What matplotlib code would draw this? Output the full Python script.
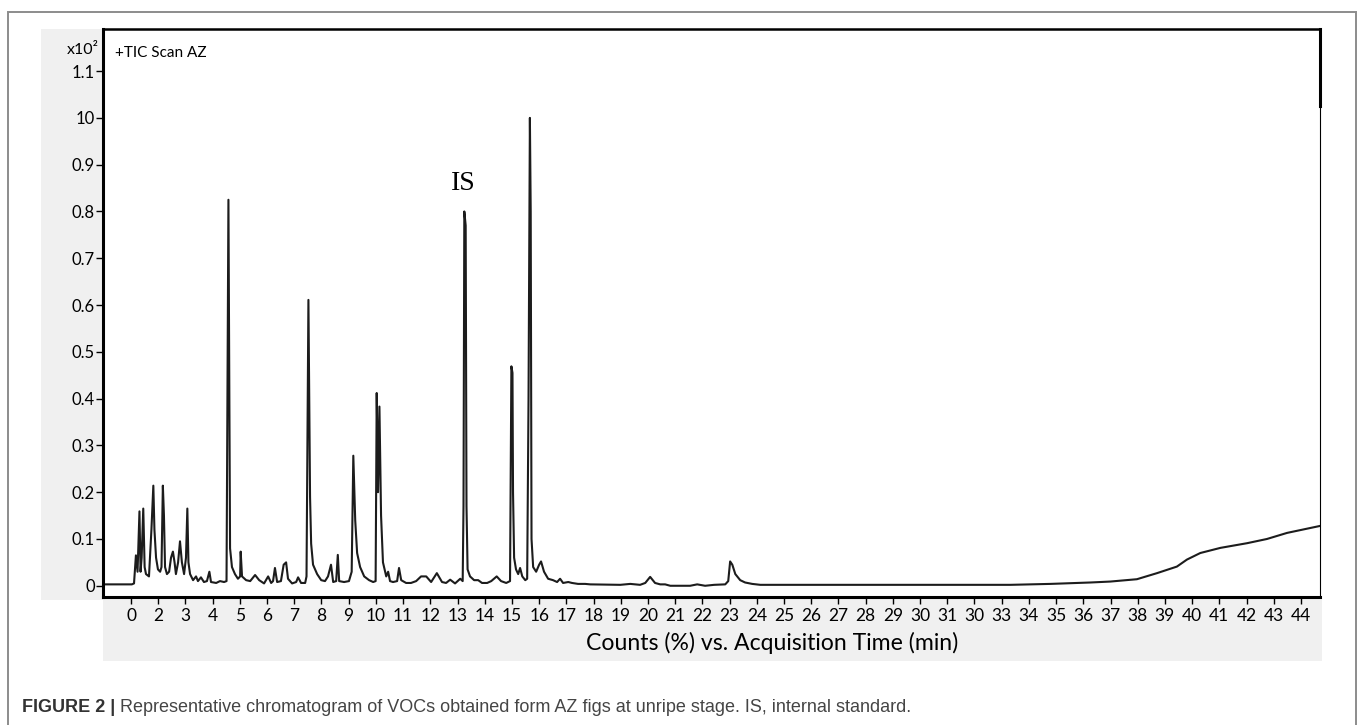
import matplotlib
matplotlib.use("Agg")
import matplotlib.pyplot as plt
from matplotlib.patches import Rectangle

# chromatogram trace (x in tick units, y in counts x10^2)
rt = [-1.03, 0.03, 0.11, 0.18, 0.24, 0.31, 0.35, 0.39, 0.45, 0.50, 0.55, 0.66, 0.75, 0.82, 0.86,
      0.92, 0.99, 1.07, 1.12, 1.17, 1.21, 1.25, 1.32, 1.40, 1.47, 1.54, 1.60, 1.65, 1.73, 1.80,
      1.87, 1.95, 2.02, 2.07, 2.11, 2.17, 2.28, 2.39, 2.46, 2.57, 2.68, 2.79, 2.88, 2.94, 3.13,
      3.27, 3.42, 3.51, 3.58, 3.64, 3.71, 3.82, 3.93, 4.01, 4.03, 4.08, 4.23, 4.38, 4.56, 4.71,
      4.89, 5.04, 5.15, 5.22, 5.29, 5.37, 5.51, 5.61, 5.70, 5.77, 5.92, 6.07, 6.14, 6.25, 6.40,
      6.45, 6.52, 6.58, 6.62, 6.69, 6.84, 6.99, 7.13, 7.24, 7.35, 7.43, 7.54, 7.60, 7.65, 7.83,
      8.01, 8.11, 8.17, 8.24, 8.31, 8.42, 8.57, 8.75, 8.90, 8.99, 9.03, 9.08, 9.13, 9.19, 9.26,
      9.38, 9.45, 9.52, 9.63, 9.78, 9.85, 9.93, 10.11, 10.29, 10.48, 10.66, 10.85, 11.03, 11.24,
      11.43, 11.58, 11.73, 11.91, 12.10, 12.19, 12.22, 12.25, 12.30, 12.33, 12.37, 12.46, 12.61,
      12.76, 12.90, 13.09, 13.24, 13.44, 13.60, 13.79, 13.93, 13.98, 14.02, 14.04, 14.08, 14.15,
      14.23, 14.30, 14.38, 14.49, 14.56, 14.61, 14.66, 14.69, 14.72, 14.78, 14.89, 15.00, 15.07,
      15.18, 15.33, 15.51, 15.66, 15.77, 15.88, 16.07, 16.21, 16.43, 16.69, 16.88, 17.98, 18.35,
      18.71, 18.90, 19.08, 19.26, 19.45, 19.63, 19.82, 20.55, 20.81, 21.10, 21.43, 21.84, 21.95,
      22.02, 22.10, 22.21, 22.39, 22.57, 22.83, 23.13, 32.32, 33.79, 35.26, 35.99, 36.97, 37.71,
      38.44, 38.81, 39.30, 40.04, 41.02, 41.75, 42.49, 43.71]
counts = [0.003, 0.003, 0.005, 0.065, 0.030, 0.159, 0.030, 0.060, 0.165, 0.040, 0.025, 0.020, 0.120,
          0.214, 0.120, 0.060, 0.035, 0.030, 0.040, 0.214, 0.150, 0.040, 0.025, 0.030, 0.060, 0.073,
          0.050, 0.025, 0.050, 0.095, 0.050, 0.025, 0.060, 0.165, 0.050, 0.025, 0.012, 0.020, 0.010,
          0.018, 0.008, 0.010, 0.030, 0.008, 0.006, 0.010, 0.008, 0.010, 0.825, 0.080, 0.040, 0.025,
          0.015, 0.020, 0.073, 0.020, 0.012, 0.010, 0.023, 0.012, 0.005, 0.020, 0.006, 0.010, 0.038,
          0.008, 0.010, 0.045, 0.050, 0.015, 0.005, 0.008, 0.018, 0.006, 0.006, 0.020, 0.611, 0.190,
          0.090, 0.045, 0.025, 0.012, 0.010, 0.020, 0.045, 0.008, 0.010, 0.066, 0.010, 0.008, 0.010,
          0.030, 0.278, 0.140, 0.070, 0.040, 0.020, 0.012, 0.008, 0.010, 0.412, 0.200, 0.383, 0.150,
          0.050, 0.020, 0.030, 0.010, 0.008, 0.010, 0.038, 0.012, 0.006, 0.006, 0.010, 0.020, 0.020,
          0.008, 0.027, 0.008, 0.006, 0.013, 0.005, 0.015, 0.010, 0.170, 0.800, 0.770, 0.170, 0.035,
          0.020, 0.012, 0.012, 0.006, 0.006, 0.010, 0.020, 0.010, 0.006, 0.010, 0.469, 0.455, 0.200,
          0.060, 0.035, 0.025, 0.038, 0.020, 0.012, 0.015, 0.400, 1.000, 0.800, 0.100, 0.040, 0.030,
          0.045, 0.052, 0.030, 0.015, 0.012, 0.008, 0.015, 0.006, 0.008, 0.006, 0.004, 0.004, 0.003,
          0.002, 0.004, 0.002, 0.006, 0.019, 0.006, 0.003, 0.003, 0.000, 0.000, 0.003, 0.000, 0.002,
          0.003, 0.010, 0.052, 0.045, 0.025, 0.012, 0.007, 0.004, 0.002, 0.002, 0.004, 0.007, 0.009,
          0.014, 0.027, 0.041, 0.056, 0.070, 0.081, 0.091, 0.100, 0.113, 0.128]

# tick labels exactly as printed on the original (including its typos)
x_tick_labels = ['0', '2', '3', '4', '5', '6', '7', '8', '9', '10', '11', '12', '13', '14', '15',
                 '16', '17', '18', '19', '20', '21', '22', '23', '24', '25', '26', '27', '28', '29',
                 '30', '31', '30', '33', '34', '35', '36', '37', '38', '39', '40', '41', '42', '43', '44']
y_tick_vals = [0, 0.1, 0.2, 0.3, 0.4, 0.5, 0.6, 0.7, 0.8, 0.9, 1.0, 1.1]
y_tick_labels = ['0', '0.1', '0.2', '0.3', '0.4', '0.5', '0.6', '0.7', '0.8', '0.9', '10', '1.1']

W, H = 1357, 725
fig = plt.figure(figsize=(W / 100, H / 100), dpi=100)


def fpos(px, py):
    # pixel position -> figure fraction
    return px / W, 1 - py / H


# outer frame + gray axis panels
fig.add_artist(Rectangle(fpos(8, 735), (1356 - 8) / W, (735 - 12) / H, transform=fig.transFigure,
                         facecolor='none', edgecolor='#8c8c8c', lw=1.4, zorder=-2))
fig.add_artist(Rectangle(fpos(41, 600), (103 - 41) / W, (600 - 29) / H, transform=fig.transFigure,
                         facecolor='#f0f0f0', edgecolor='none', zorder=-1))
fig.add_artist(Rectangle(fpos(103, 661), (1322 - 103) / W, (661 - 597) / H, transform=fig.transFigure,
                         facecolor='#f0f0f0', edgecolor='none', zorder=-1))

ax = fig.add_axes([103 / W, 1 - 597 / H, (1320 - 103) / W, (597 - 29) / H])
ax.plot(rt, counts, color='#1c1c1c', lw=1.5)

ax.set_xlim(-1.03, 43.7)
ax.set_ylim(-0.024, 1.19)
ax.set_xticks(range(len(x_tick_labels)))
ax.set_xticklabels(x_tick_labels)
ax.set_yticks(y_tick_vals)
ax.set_yticklabels(y_tick_labels)
ax.tick_params(axis='x', length=5, width=1, pad=3, labelsize=12.5)
ax.tick_params(axis='y', length=5, width=1, pad=1, labelsize=12)
for lab in ax.get_xticklabels() + ax.get_yticklabels():
    lab.set_family('Lato')

ax.spines['left'].set_linewidth(2.2)
ax.spines['bottom'].set_linewidth(2.2)
ax.spines['top'].set_linewidth(1.8)
ax.spines['right'].set_linewidth(0.8)
ax.plot([1, 1], [0.864, 1], transform=ax.transAxes, color='black', lw=2.2, clip_on=False)

# texts
fig.text(*fpos(115, 53), '+TIC Scan AZ', ha='left', va='center', fontsize=11, family='Lato')
fig.text(*fpos(99, 50), 'x10²', ha='right', va='center', fontsize=11.5, family='Lato')
fig.text(*fpos(463, 183), 'IS', ha='center', va='center', fontsize=20, family='Liberation Serif')
fig.text(*fpos(772, 643), 'Counts (%) vs. Acquisition Time (min)', ha='center', va='center',
         fontsize=16.6, family='Lato')

cap1 = fig.text(*fpos(22, 708), 'FIGURE 2 |', ha='left', va='center', fontsize=13,
                family='Liberation Sans', weight='bold', color='#333333')
renderer = fig.canvas.get_renderer()
bb = cap1.get_window_extent(renderer)
fig.text((bb.x1 + 5) / W, 1 - 708 / H,
         'Representative chromatogram of VOCs obtained form AZ figs at unripe stage. IS, internal standard.',
         ha='left', va='center', fontsize=13, family='Liberation Sans', color='#454545')

fig.savefig('out.png', dpi=100)
